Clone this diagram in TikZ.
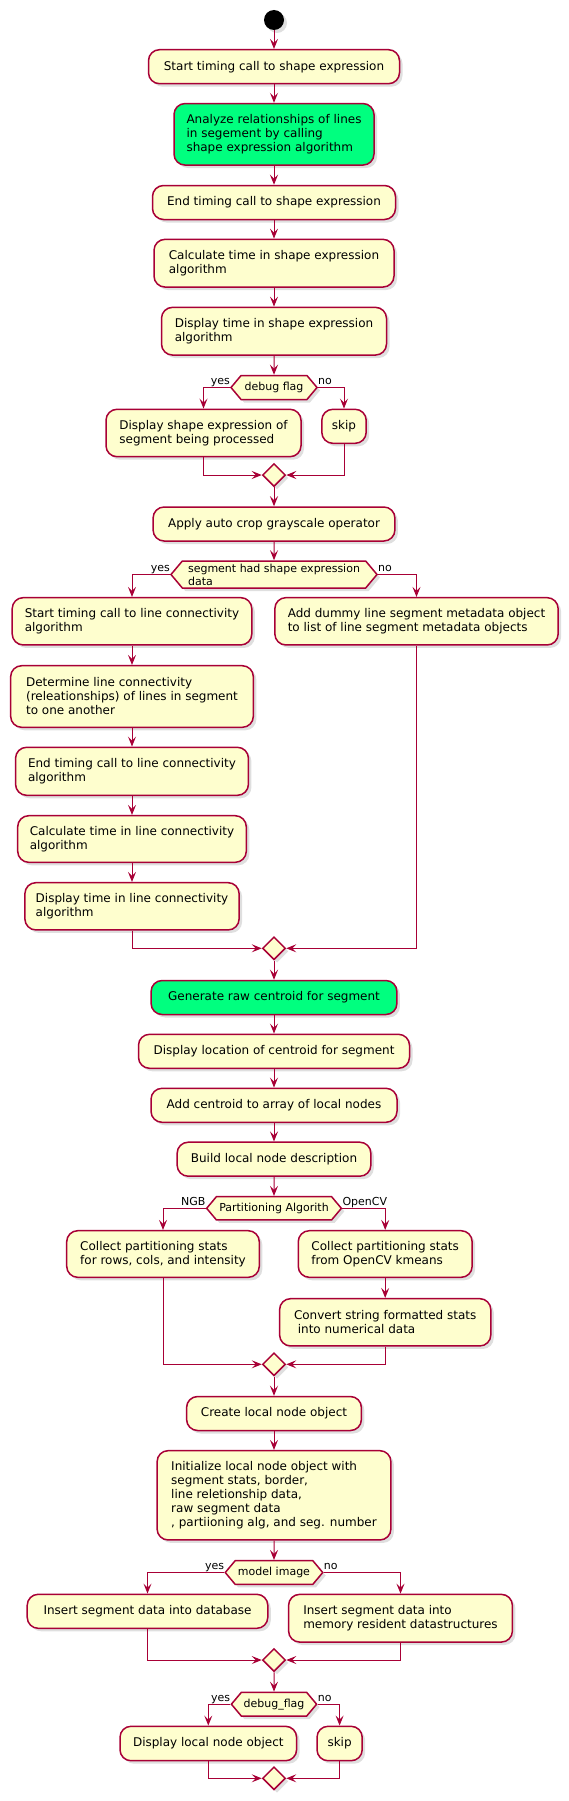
\documentclass[tikz,border=0pt]{standalone}
\usepackage{fontspec}
\setmainfont{DejaVu Sans}
\usetikzlibrary{positioning,arrows.meta,shapes.geometric,shapes.symbols,shadows}
\definecolor{umlred}{HTML}{A80036}
\definecolor{umlfill}{HTML}{FEFECE}
\definecolor{umlgreen}{HTML}{00FF7F}
\tikzset{
act/.style={
  draw=umlred, fill=umlfill, line width=1.5pt,
  rounded corners=11pt, align=left,
  minimum height=34pt, inner xsep=8pt, inner ysep=4pt,
  font=\fontsize{12}{14}\selectfont,
  drop shadow={shadow xshift=3pt, shadow yshift=-3pt, opacity=.25}
},
greenact/.style={act, fill=umlgreen},
cond/.style={
  shape=signal, signal to=west and east, signal pointer angle=100,
  draw=umlred, fill=umlfill, line width=1.5pt, align=left,
  minimum height=24pt, inner xsep=2pt, inner ysep=1pt,
  font=\fontsize{11}{13}\selectfont,
  drop shadow={shadow xshift=3pt, shadow yshift=-3pt, opacity=.25}
},
merge/.style={
  diamond, draw=umlred, fill=umlfill, line width=1.5pt,
  minimum width=23pt, minimum height=23pt, inner sep=0pt,
  drop shadow={shadow xshift=3pt, shadow yshift=-3pt, opacity=.25}
},
startnode/.style={
  circle, fill=black, minimum size=20pt, inner sep=0pt,
  drop shadow={shadow xshift=3pt, shadow yshift=-3pt, opacity=.25}
},
flow/.style={draw=umlred, line width=1pt, -{Stealth[length=10pt,width=8pt,inset=4pt]}},
lbl/.style={font=\fontsize{11}{13}\selectfont, inner sep=0pt},
}

\begin{document}
\begin{tikzpicture}[x=1pt, y=-1pt]
\useasboundingbox (0,0) rectangle (568,1801);

% shape expression part
\node[startnode] (start) at (274,20) {};
\node[act, minimum width=251pt] (s1) at (274,66.7) {Start timing call to shape expression};
\node[greenact, minimum width=200pt, minimum height=61.5pt] (s2) at (274,134.3) {Analyze relationships of lines\\in segement by calling\\shape expression algorithm};
\node[act, minimum width=243pt] (s3) at (274,202.5) {End timing call to shape expression};
\node[act, minimum width=240pt, minimum height=47.7pt] (s4) at (274,263.2) {Calculate time in shape expression\\algorithm};
\node[act, minimum width=225pt, minimum height=47.7pt] (s5) at (274,331.2) {Display time in shape expression\\algorithm};
\node[cond, minimum width=86pt] (d1) at (274,387.5) {debug flag};
\node[act, minimum width=195pt, minimum height=47.4pt] (s6) at (203.5,433) {Display shape expression of\\segment being processed};
\node[act, minimum width=44.4pt] (s7) at (344,426.3) {skip};
\node[merge] (m1) at (274,475) {};

% line connectivity part
\node[act, minimum width=241.8pt] (s8) at (274,524) {Apply auto crop grayscale operator};
\node[cond, minimum width=206pt, minimum height=27pt] (d2) at (274,574.5) {segment had shape expression\\data};
\node[act, minimum width=239.6pt, minimum height=47.3pt] (s9) at (132,621.3) {Start timing call to line connectivity\\algorithm};
\node[act, minimum width=283.3pt, minimum height=47.3pt] (s10) at (416.5,621.3) {Add dummy line segment metadata object\\to list of line segment metadata objects};
\node[act, minimum width=242.7pt, minimum height=61.6pt] (s11) at (132,696.5) {Determine line connectivity\\(releationships) of lines in segment\\to one another};
\node[act, minimum width=232.9pt, minimum height=48pt] (s12) at (132,771.3) {End timing call to line connectivity\\algorithm};
\node[act, minimum width=228.6pt, minimum height=46.6pt] (s13) at (132,839) {Calculate time in line connectivity\\algorithm};
\node[act, minimum width=214.2pt, minimum height=47.3pt] (s14) at (132,906.3) {Display time in line connectivity\\algorithm};
\node[merge] (m2) at (274,948.3) {};

% centroid and partitioning
\node[greenact, minimum width=245.8pt] (s15) at (274,997.5) {Generate raw centroid for segment};
\node[act, minimum width=271pt] (s16) at (274,1051.3) {Display location of centroid for segment};
\node[act, minimum width=246pt] (s17) at (274,1105.3) {Add centroid to array of local nodes};
\node[act, minimum width=193.7pt] (s18) at (274,1159.2) {Build local node description};
\node[cond, minimum width=134.7pt, minimum height=23.3pt] (d3) at (274,1208.3) {Partitioning Algorith};
\node[act, minimum width=192.6pt, minimum height=46.6pt] (s19) at (163,1254) {Collect partitioning stats\\for rows, cols, and intensity};
\node[act, minimum width=173.9pt, minimum height=46.6pt] (s20) at (385.2,1254) {Collect partitioning stats\\from OpenCV kmeans};
\node[act, minimum width=211.2pt, minimum height=47.3pt] (s21) at (385.2,1322.3) {Convert string formatted stats\\\ into numerical data};
\node[merge] (m3) at (274,1364.3) {};

% local node object
\node[act, minimum width=174.8pt] (s22) at (274,1413.5) {Create local node object};
\node[act, minimum width=233.8pt, minimum height=89.3pt] (s23) at (274,1495.3) {Initialize local node object with\\segment stats, border,\\line reletionship data,\\raw segment data\\, partiioning alg, and seg. number};
\node[cond, minimum width=97.5pt, minimum height=23.6pt] (d4) at (274,1572.5) {model image};
\node[act, minimum width=240.6pt] (s24) at (147.5,1611.3) {Insert segment data into database};
\node[act, minimum width=223.8pt, minimum height=47.7pt] (s25) at (400.5,1618.2) {Insert segment data into\\memory resident datastructures};
\node[merge] (m4) at (274,1660) {};
\node[cond, minimum width=85.2pt, minimum height=23.7pt] (d5) at (274,1704.2) {debug\_flag};
\node[act, minimum width=176.6pt, minimum height=34.4pt] (s26) at (208.3,1743.5) {Display local node object};
\node[act, minimum width=45.2pt, minimum height=34.4pt] (s27) at (339.6,1743.5) {skip};
\node[merge] (m5) at (274,1778.3) {};

% connectors
\draw[flow] (start) -- (s1);
\draw[flow] (s1) -- (s2);
\draw[flow] (s2) -- (s3);
\draw[flow] (s3) -- (s4);
\draw[flow] (s4) -- (s5);
\draw[flow] (s5) -- (d1);
\draw[flow] (d1.west) -| (s6.north);
\draw[flow] (d1.east) -| (s7.north);
\draw[flow] (s6.south) |- (m1.west);
\draw[flow] (s7.south) |- (m1.east);
\draw[flow] (m1) -- (s8);
\draw[flow] (s8) -- (d2);
\draw[flow] (d2.west) -| (s9.north);
\draw[flow] (d2.east) -| (s10.north);
\draw[flow] (s9) -- (s11);
\draw[flow] (s11) -- (s12);
\draw[flow] (s12) -- (s13);
\draw[flow] (s13) -- (s14);
\draw[flow] (s14.south) |- (m2.west);
\draw[flow] (s10.south) |- (m2.east);
\draw[flow] (m2) -- (s15);
\draw[flow] (s15) -- (s16);
\draw[flow] (s16) -- (s17);
\draw[flow] (s17) -- (s18);
\draw[flow] (s18) -- (d3);
\draw[flow] (d3.west) -| (s19.north);
\draw[flow] (d3.east) -| (s20.north);
\draw[flow] (s20) -- (s21);
\draw[flow] (s19.south) |- (m3.west);
\draw[flow] (s21.south) |- (m3.east);
\draw[flow] (m3) -- (s22);
\draw[flow] (s22) -- (s23);
\draw[flow] (s23) -- (d4);
\draw[flow] (d4.west) -| (s24.north);
\draw[flow] (d4.east) -| (s25.north);
\draw[flow] (s24.south) |- (m4.west);
\draw[flow] (s25.south) |- (m4.east);
\draw[flow] (m4) -- (d5);
\draw[flow] (d5.west) -| (s26.north);
\draw[flow] (d5.east) -| (s27.north);
\draw[flow] (s26.south) |- (m5.west);
\draw[flow] (s27.south) |- (m5.east);

% branch labels
\node[lbl, anchor=base east, yshift=3pt] (y1) at (d1.west) {yes};
\node[lbl, anchor=base west, yshift=3pt] (n1) at (d1.east) {no};
\node[lbl, anchor=base east, yshift=3pt] (y2) at (d2.west) {yes};
\node[lbl, anchor=base west, yshift=3pt] (n2) at (d2.east) {no};
\node[lbl, anchor=base east, yshift=3pt] (y3) at (d3.west) {NGB};
\node[lbl, anchor=base west, yshift=3pt] (n3) at (d3.east) {OpenCV};
\node[lbl, anchor=base east, yshift=3pt] (y4) at (d4.west) {yes};
\node[lbl, anchor=base west, yshift=3pt] (n4) at (d4.east) {no};
\node[lbl, anchor=base east, yshift=3pt] (y5) at (d5.west) {yes};
\node[lbl, anchor=base west, yshift=3pt] (n5) at (d5.east) {no};
\end{tikzpicture}
\end{document}
